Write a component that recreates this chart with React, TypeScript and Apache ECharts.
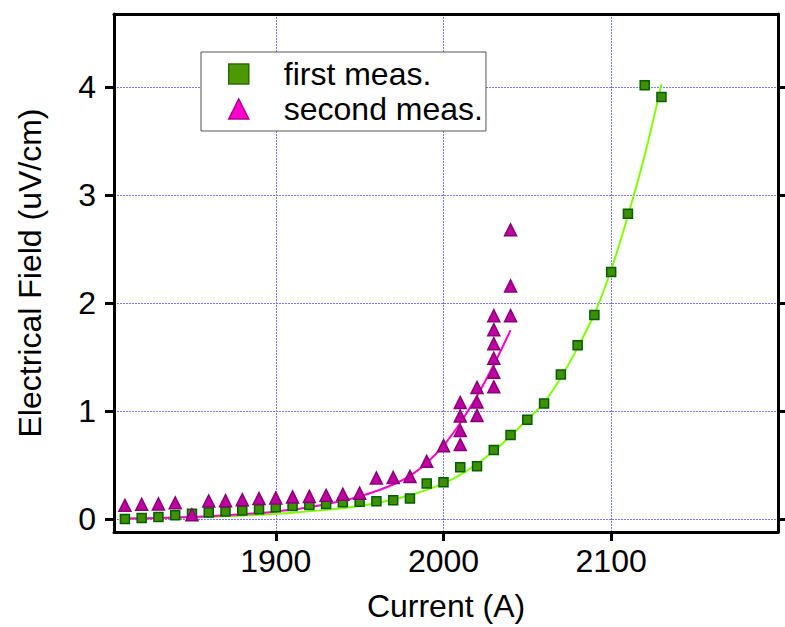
import React, { useEffect, useRef } from "react";
import * as echarts from "echarts";

const firstX = [1810, 1820, 1830, 1840, 1850, 1860, 1870, 1880, 1890, 1900, 1910, 1920, 1930, 1940, 1950, 1960, 1970, 1980, 1990, 2000, 2010, 2020, 2030, 2040, 2050, 2060, 2070, 2080, 2090, 2100, 2110, 2120, 2130];
const firstY = [0.0, 0.01, 0.02, 0.035, 0.05, 0.06, 0.07, 0.08, 0.09, 0.11, 0.12, 0.13, 0.14, 0.155, 0.16, 0.165, 0.175, 0.19, 0.33, 0.34, 0.48, 0.49, 0.64, 0.78, 0.92, 1.07, 1.34, 1.61, 1.89, 2.29, 2.83, 4.02, 3.91];

const secondX = [1810, 1820, 1830, 1840, 1850, 1860, 1870, 1880, 1890, 1900, 1910, 1920, 1930, 1940, 1950, 1960, 1970, 1980, 1990, 2000, 2010, 2010, 2010, 2010, 2020, 2020, 2020, 2030, 2030, 2030, 2030, 2030, 2030, 2040, 2040, 2040];
const secondY = [0.127, 0.136, 0.14, 0.15, 0.04, 0.167, 0.17, 0.18, 0.19, 0.195, 0.205, 0.21, 0.22, 0.23, 0.24, 0.38, 0.385, 0.395, 0.535, 0.68, 0.69, 0.82, 0.955, 1.08, 0.96, 1.085, 1.22, 1.225, 1.36, 1.49, 1.625, 1.755, 1.885, 1.885, 2.16, 2.68];

const fitFirstX = [1810, 1830, 1850, 1870, 1890, 1910, 1930, 1950, 1970, 1980, 1990, 2000, 2010, 2020, 2030, 2040, 2050, 2060, 2070, 2080, 2090, 2100, 2110, 2120, 2130];
const fitFirstY = [0.006, 0.01, 0.017, 0.026, 0.04, 0.058, 0.085, 0.12, 0.18, 0.22, 0.27, 0.33, 0.41, 0.51, 0.63, 0.77, 0.92, 1.08, 1.31, 1.59, 1.9, 2.31, 2.81, 3.37, 4.03];

const fitSecondX = [1810, 1830, 1850, 1870, 1890, 1900, 1920, 1940, 1950, 1960, 1970, 1980, 1990, 2000, 2010, 2020, 2030, 2040];
const fitSecondY = [0.005, 0.01, 0.02, 0.035, 0.055, 0.07, 0.11, 0.17, 0.21, 0.26, 0.32, 0.4, 0.52, 0.68, 0.89, 1.14, 1.43, 1.75];

const xTicks = [1900, 2000, 2100];
const yTicks = [0, 1, 2, 3, 4];

const FONT = "Liberation Sans, Arial, sans-serif";
const FS = 32;

const zip = (xs: number[], ys: number[]) => xs.map((x, i) => [x, ys[i]]);

export default function App() {
  const ref = useRef<HTMLDivElement>(null);
  useEffect(() => {
    if (!ref.current) return;
    const chart = echarts.init(ref.current, undefined, { renderer: "svg" });
    const gridLine = () => ({ show: true, lineStyle: { color: "#7878ff", width: 1, type: [2, 1] as any } });
    chart.setOption({
      animation: false,
      backgroundColor: "#ffffff",
      grid: { left: 114, right: 7, top: 14, bottom: 94, containLabel: false },
      legend: {
        left: 201,
        top: 52,
        orient: "vertical",
        backgroundColor: "#ffffff",
        borderColor: "#555555",
        borderWidth: 1,
        borderRadius: 0,
        padding: [6, 3, 6, 27],
        itemWidth: 20,
        itemHeight: 20,
        itemGap: 3,
        textStyle: { fontFamily: FONT, fontSize: FS, color: "#000", lineHeight: 31, padding: [0, 0, 0, 30] },
        data: [
          { name: "first meas.", icon: "rect", itemStyle: { color: "#4c9a00", borderColor: "#2a6c00", borderWidth: 1.5 } },
          { name: "second meas.", icon: "triangle", itemStyle: { color: "#ff00cc", borderColor: "#b00090", borderWidth: 1.5 } },
        ],
      },
      xAxis: [
        {
          type: "value",
          position: "bottom",
          min: 1803.5,
          max: 2199.5,
          name: "Current (A)",
          nameLocation: "middle",
          nameGap: 58,
          nameTextStyle: { fontFamily: FONT, fontSize: FS, color: "#000" },
          axisLine: { show: true, onZero: false, lineStyle: { color: "#000", width: 3 } },
          axisTick: { show: true, inside: false, length: 9, lineStyle: { color: "#000", width: 3 }, customValues: xTicks },
          axisLabel: { show: true, margin: 13, fontFamily: FONT, fontSize: FS, color: "#000", customValues: xTicks, formatter: (v: number) => String(v) },
          splitLine: gridLine(),
        },
        {
          type: "value",
          position: "top",
          min: 1803.5,
          max: 2199.5,
          axisLine: { show: true, onZero: false, lineStyle: { color: "#000", width: 3 } },
          axisTick: { show: false },
          axisLabel: { show: false },
          splitLine: { show: false },
        },
      ],
      yAxis: [
        {
          type: "value",
          position: "left",
          min: -0.12,
          max: 4.68,
          name: "Electrical Field (uV/cm)",
          nameLocation: "middle",
          nameGap: 68,
          nameTextStyle: { fontFamily: FONT, fontSize: FS, color: "#000" },
          axisLine: { show: true, onZero: false, lineStyle: { color: "#000", width: 3 } },
          axisTick: { show: true, inside: false, length: 9, lineStyle: { color: "#000", width: 3 }, customValues: yTicks },
          axisLabel: { show: true, margin: 18, fontFamily: FONT, fontSize: FS, color: "#000", customValues: yTicks, formatter: (v: number) => String(v) },
          splitLine: gridLine(),
        },
        {
          type: "value",
          position: "right",
          min: -0.12,
          max: 4.68,
          axisLine: { show: true, onZero: false, lineStyle: { color: "#000", width: 3 } },
          axisTick: { show: true, inside: false, length: 8, lineStyle: { color: "#000", width: 3 }, customValues: yTicks },
          axisLabel: { show: false },
          splitLine: { show: false },
        },
      ],
      series: [
        {
          name: "fit first",
          type: "line",
          data: zip(fitFirstX, fitFirstY),
          smooth: 0.4,
          showSymbol: false,
          lineStyle: { color: "#80ff00", width: 2 },
          itemStyle: { color: "#80ff00" },
          z: 2,
        },
        {
          name: "fit second",
          type: "line",
          data: zip(fitSecondX, fitSecondY),
          smooth: 0.4,
          showSymbol: false,
          lineStyle: { color: "#ff00cc", width: 2 },
          itemStyle: { color: "#ff00cc" },
          z: 2,
        },
        {
          name: "first meas.",
          type: "scatter",
          data: zip(firstX, firstY),
          symbol: "rect",
          symbolSize: 9,
          itemStyle: { color: "#3f8f00", borderColor: "#006000", borderWidth: 1.5, opacity: 1 },
          z: 3,
        },
        {
          name: "second meas.",
          type: "scatter",
          data: zip(secondX, secondY),
          symbol: "triangle",
          symbolSize: 12,
          itemStyle: { color: "#c000a0", borderColor: "#880078", borderWidth: 1.5, opacity: 1 },
          z: 3,
        },
      ],
    });
    return () => chart.dispose();
  }, []);
  return (
    <div
      ref={ref}
      style={{ position: "fixed", left: 0, top: 0, width: 785, height: 627, background: "#fff" }}
    />
  );
}
